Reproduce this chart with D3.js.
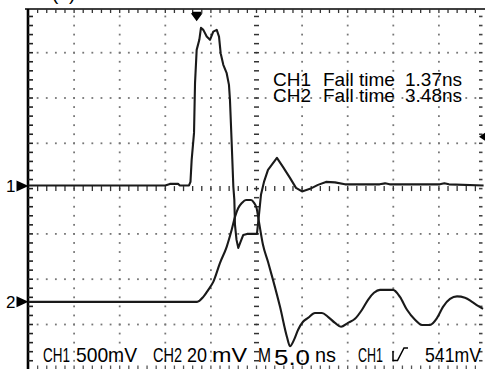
<!DOCTYPE html>
<html><head><meta charset="utf-8">
<script src="https://cdn.jsdelivr.net/npm/d3@7"></script>
<style>body{margin:0;background:#fff} svg{display:block}</style>
</head><body><svg id="c" width="489" height="369"></svg>
<script>
// ---- data (time in ns, voltage in mV relative to channel ground marker) ----
const ch1Time = [0,15.0,15.5,16.4,16.6,17.6,17.76,17.89,18.15,18.26,18.44,18.73,18.91,19.17,19.54,19.90,20.26,20.64,20.89,21.07,21.36,21.73,21.98,22.09,22.28,22.46,22.57,22.64,22.81,23.0,23.25,23.55,23.96,24.62,25.05,25.27,25.49,25.82,26.26,27.24,27.9,28.67,29.33,29.99,30.87,31.74,32.62,33.6,34.7,38.5,39.1,39.6,45.1,45.6,46.1,49.9];
const ch1Volt = [5,5,22,22,5,5,44,287,585,1137,1501,1612,1744,1722,1648,1612,1703,1722,1648,1465,1336,1244,1115,949,471,-8,-155,-431,-596,-684,-618,-541,-530,-530,-530,-320,-99,44,177,309,210,88,-22,-61,-33,11,44,39,17,17,28,17,17,28,17,5];
const ch2Time = [0,18.48,19.17,19.71,20.26,21.0,21.73,22.28,22.64,23.0,23.41,23.85,24.4,24.73,25.0,25.27,25.71,26.26,26.81,27.58,28.34,28.67,29.11,29.55,30.1,30.65,31.41,32.18,32.84,33.61,34.27,35.03,35.8,36.57,37.23,37.88,38.54,39.97,40.73,41.5,42.38,43.15,44.02,44.8,45.45,46.22,46.99,47.86,48.63,49.29,49.84];
const ch2Volt = [0,0,2.2,5.3,8.8,17.2,24.3,31.8,37.5,41.4,43.7,45.0,45.0,43.7,41.5,35.3,25.2,17.7,9.7,-2.2,-15.5,-19.6,-16.8,-12.4,-8.8,-7.1,-4.9,-4.9,-6.6,-9.3,-11.0,-9.3,-7.5,-3.5,0.9,4.0,5.3,5.3,2.2,-3.5,-7.9,-10.2,-10.2,-7.1,-2.2,1.3,2.4,1.8,0,-1.8,-3.1];
const channelNames = ["CH1","CH2"];
const fallTimes = ["1.37ns","3.48ns"];
const voltsPerDiv = [500, 20];      // mV/div
const groundPos = [0.06, -2.5];     // divisions from centre
const timePerDiv = 5.0;             // ns/div
const trigTime = 18.44;             // ns
const trigLevel = 541;              // mV on CH1
const statusTexts = ["CH1","500mV","CH2","20","mV","M","5.0","ns","CH1","541mV"];

// ---- layout ----
const svg = d3.select("#c");
const x = d3.scaleLinear().domain([0, 10*timePerDiv]).range([28.5, 484.5]);
const yDiv = d3.scaleLinear().domain([-4, 4]).range([369.8, 7.4]);
const yCh = (ch, mv) => yDiv(groundPos[ch] + mv/voltsPerDiv[ch]);

const g = svg.append("g");
const minorX = d3.range(1, 50).map(m => m*timePerDiv/5);
const minorY = d3.range(-20, 21).map(k => k/5).filter(d => yDiv(d) > 11 && yDiv(d) < 368);

// dotted grid: vertical
[1,2,3,4,6,7,8,9].forEach(i => {
  g.selectAll(null).data(minorY).enter().append("rect")
    .attr("x", x(i*timePerDiv)-0.9).attr("y", d => yDiv(d)-0.9)
    .attr("width", 1.8).attr("height", 1.8).attr("fill", "#777");
});
// dotted grid: horizontal
[-3,-2,-1,1,2,3].forEach(j => {
  g.selectAll(null).data(minorX).enter().append("rect")
    .attr("x", d => x(d)-0.9).attr("y", yDiv(j)-0.9)
    .attr("width", 1.8).attr("height", 1.8).attr("fill", "#777");
});
// centre cross ticks
g.selectAll(null).data(minorX).enter().append("line")
  .attr("x1", d => x(d)).attr("x2", d => x(d))
  .attr("y1", yDiv(0)-2.5).attr("y2", yDiv(0)+2.5)
  .attr("stroke", "#333").attr("stroke-width", 1.3);
g.selectAll(null).data(minorY).enter().append("line")
  .attr("x1", x(5*timePerDiv)-2.5).attr("x2", x(5*timePerDiv)+2.5)
  .attr("y1", d => yDiv(d)).attr("y2", d => yDiv(d))
  .attr("stroke", "#333").attr("stroke-width", 1.5);
// borders
g.append("line").attr("x1", 25).attr("x2", 485).attr("y1", 9).attr("y2", 9)
  .attr("stroke", "#000").attr("stroke-width", 1.6);
g.selectAll(null).data(minorX).enter().append("line")
  .attr("x1", d => x(d)).attr("x2", d => x(d)).attr("y1", 9).attr("y2", 13)
  .attr("stroke", "#333").attr("stroke-width", 1.3);
g.append("line").attr("x1", 28).attr("x2", 28).attr("y1", 9).attr("y2", 369)
  .attr("stroke", "#000").attr("stroke-width", 2.6);
g.selectAll(null).data(minorY).enter().append("line")
  .attr("x1", 28).attr("x2", 33).attr("y1", d => yDiv(d)).attr("y2", d => yDiv(d))
  .attr("stroke", "#222").attr("stroke-width", 1.6);
g.selectAll(null).data(minorY).enter().append("line")
  .attr("x1", 479).attr("x2", 482.5).attr("y1", d => yDiv(d)).attr("y2", d => yDiv(d))
  .attr("stroke", "#444").attr("stroke-width", 1.6);
g.selectAll(null).data(minorX).enter().append("line")
  .attr("x1", d => x(d)).attr("x2", d => x(d)).attr("y1", 365.5).attr("y2", 369)
  .attr("stroke", "#555").attr("stroke-width", 1.3);

// traces
const line1 = d3.line().x((d,i) => x(ch1Time[i])).y((d,i) => yCh(0, ch1Volt[i]));
const line2 = d3.line().x((d,i) => x(ch2Time[i])).y((d,i) => yCh(1, ch2Volt[i])).curve(d3.curveMonotoneX);
svg.append("path").attr("d", line2(ch2Time)).attr("fill","none")
  .attr("stroke","#1a1a1a").attr("stroke-width",2.1).attr("stroke-linejoin","round");
svg.append("path").attr("d", line1(ch1Time)).attr("fill","none")
  .attr("stroke","#1a1a1a").attr("stroke-width",2.1).attr("stroke-linejoin","round");

// markers
const font = "'Liberation Sans', Arial, sans-serif";
[0,1].forEach(ch => {
  const yy = yCh(ch, 0);
  svg.append("path").attr("d", `M16.5,${yy-5.5}L28.5,${yy}L16.5,${yy+5.5}Z`).attr("fill","#000");
  svg.append("text").attr("x", 6).attr("y", yy+6.5).text(String(ch+1))
    .attr("font-family", font).attr("font-size", 17).attr("fill","#000");
});
const tx = x(trigTime);
svg.append("path").attr("d", `M${tx-4.5},12.5H${tx+4.5}M${tx-4.5},14L${tx+4.5},14L${tx},20Z`)
  .attr("stroke","#000").attr("stroke-width",1.4).attr("fill","#000");
const ty = yCh(0, trigLevel);
svg.append("path").attr("d", `M485,${ty-4}L479,${ty}L485,${ty+4}Z`).attr("fill","#000");

// caption remnant at top (cropped in the original)
svg.append("text").attr("x", 52).attr("y", 0).text("(a)")
  .attr("font-family", font).attr("font-size", 19);

// fall time annotation
[0,1].forEach(i => {
  const by = 86 + i*15.7;
  svg.append("text").attr("x", 273).attr("y", by).text(channelNames[i]).attr("font-family", font).attr("font-size", 19);
  svg.append("text").attr("x", 323).attr("y", by).text("Fall time").attr("font-family", font).attr("font-size", 19);
  svg.append("text").attr("x", 405).attr("y", by).text(fallTimes[i]).attr("font-family", font).attr("font-size", 19);
});

// status line
const statusX = [43, 76, 153, 187, 212, 258, 274, 315, 358, 425];
const statusW = [27, 61, 29, 20, 35, 13, 36, 21, 25, 56];
statusTexts.forEach((t, i) => {
  const big = t === "5.0";
  svg.append("text").attr("x", statusX[i]).attr("y", big ? 364.6 : 362).text(t)
    .attr("font-family", font).attr("font-size", big ? 22 : 21)
    .attr("textLength", statusW[i]).attr("lengthAdjust", "spacingAndGlyphs");
});
svg.append("path").attr("d", "M393,351V360.5H397.5L404,348H408")
  .attr("fill","none").attr("stroke","#000").attr("stroke-width",1.5);
</script></body></html>
